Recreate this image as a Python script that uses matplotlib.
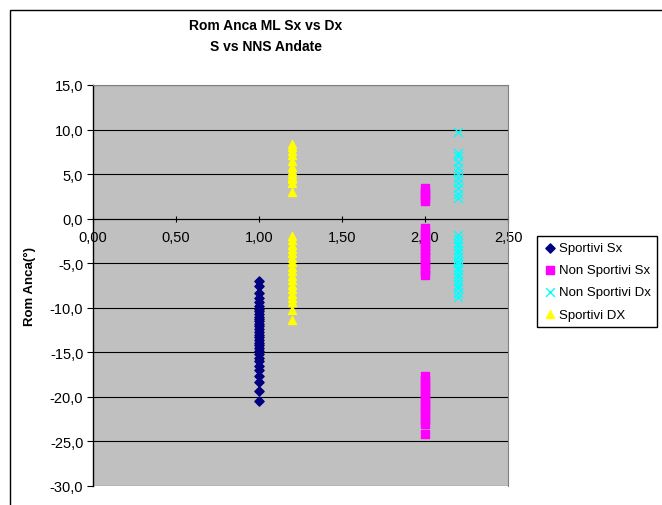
import matplotlib.pyplot as plt
from matplotlib.patches import Rectangle
from matplotlib.ticker import FuncFormatter, MultipleLocator

plt.rcParams['font.family'] = ['Liberation Sans', 'DejaVu Sans']

# x position of each group
x_sportivi_sx = 1.0
x_sportivi_dx = 1.2
x_non_sportivi_sx = 2.0
x_non_sportivi_dx = 2.2

# ROM anca (degrees)
sportivi_sx = [-7.0, -7.6, -8.3, -8.9, -9.4, -9.8, -10.1, -10.4, -10.7, -11.0,
               -11.3, -11.5, -11.8, -12.1, -12.4, -12.7, -13.0, -13.3, -13.6,
               -13.9, -14.2, -14.5, -14.9, -15.2, -15.6, -16.0, -16.5, -17.0,
               -17.6, -18.3, -19.3, -20.5]
non_sportivi_sx = [3.4, 3.0, 2.7, 2.3, 2.0,
                   -1.1, -1.5, -1.9, -2.3, -2.7, -3.1, -3.5, -3.9, -4.3, -4.7,
                   -5.1, -5.5, -5.9, -6.3,
                   -17.7, -18.1, -18.5, -18.9, -19.3, -19.7, -20.1, -20.5,
                   -20.9, -21.3, -21.7, -22.1, -22.6, -23.0, -24.2]
non_sportivi_dx = [9.7, 7.4, 7.0, 6.4, 5.7, 5.1, 4.6, 4.0, 3.4, 2.8, 2.3,
                   -1.8, -2.3, -2.7, -3.1, -3.5, -3.9, -4.3, -4.7, -5.0, -5.4,
                   -5.8, -6.2, -6.6, -7.0, -7.4, -7.8, -8.3, -8.8]
sportivi_dx = [8.4, 8.0, 7.6, 7.2, 6.5, 5.8, 5.3, 5.0, 4.7, 4.4, 4.0, 3.0,
               -1.9, -2.4, -2.9, -3.4, -3.9, -4.4, -4.9, -5.4, -5.9, -6.4,
               -6.9, -7.4, -7.9, -8.4, -8.9, -9.4, -10.2, -11.4]

W, H = 662, 506
fig = plt.figure(figsize=(W / 100, H / 100), dpi=100)

# chart area border (runs off the right and bottom edges)
fig.patches.append(Rectangle((10 / W, -0.05), 1.0, 1 - 11 / H + 0.05,
                             transform=fig.transFigure, fill=False,
                             edgecolor='black', linewidth=1.0))

left, right, top, bottom = 93, 508, 86, 487
ax = fig.add_axes([left / W, 1 - bottom / H, (right - left) / W, (bottom - top) / H])
ax.set_facecolor('#C0C0C0')

ax.scatter([x_sportivi_sx] * len(sportivi_sx), sportivi_sx, marker='D', s=22,
           color='#000080', label='Sportivi Sx', zorder=3)
ax.scatter([x_non_sportivi_sx] * len(non_sportivi_sx), non_sportivi_sx, marker='s', s=28,
           color='#FF00FF', label='Non Sportivi Sx', zorder=3)
ax.scatter([x_non_sportivi_dx] * len(non_sportivi_dx), non_sportivi_dx, marker='x', s=40,
           color='#00FFFF', linewidths=1.0, label='Non Sportivi Dx', zorder=3)
ax.scatter([x_sportivi_dx] * len(sportivi_dx), sportivi_dx, marker='^', s=33,
           color='#FFFF00', label='Sportivi DX', zorder=3)

ax.set_xlim(0, 2.5)
ax.set_ylim(-30, 15)
ax.xaxis.set_major_locator(MultipleLocator(0.5))
ax.yaxis.set_major_locator(MultipleLocator(5))
ax.xaxis.set_major_formatter(FuncFormatter(lambda v, p: f'{v:.2f}'.replace('.', ',')))
ax.yaxis.set_major_formatter(FuncFormatter(lambda v, p: f'{v:.1f}'.replace('.', ',')))
ax.yaxis.grid(True, color='black', linewidth=0.8)
ax.set_axisbelow(True)

ax.spines['bottom'].set_position(('data', 0))
ax.spines['bottom'].set_zorder(2)
ax.spines['top'].set_color('#808080')
ax.spines['right'].set_color('#808080')
ax.spines['left'].set_linewidth(1.0)
ax.tick_params(axis='x', direction='inout', length=5, pad=6, labelsize=10.5)
ax.tick_params(axis='y', direction='out', length=4, pad=3, labelsize=10.5)
ax.set_ylabel('Rom Anca(°)', fontsize=9.5, fontweight='bold', labelpad=10)

fig.text(266 / W, 1 - 36.5 / H, 'Rom Anca ML Sx vs Dx\nS vs NNS Andate', ha='center', va='center',
         fontsize=10, fontweight='bold', linespacing=1.6)

leg = fig.legend(loc='upper left', bbox_to_anchor=(537 / W, 1 - 237 / H), fontsize=9.5,
                 frameon=True, fancybox=False, edgecolor='black', framealpha=1,
                 borderpad=0.45, labelspacing=0.75, handletextpad=0.1, handlelength=1.1,
                 borderaxespad=0)
leg.get_frame().set_linewidth(1.0)

fig.savefig('out.png', dpi=100)
